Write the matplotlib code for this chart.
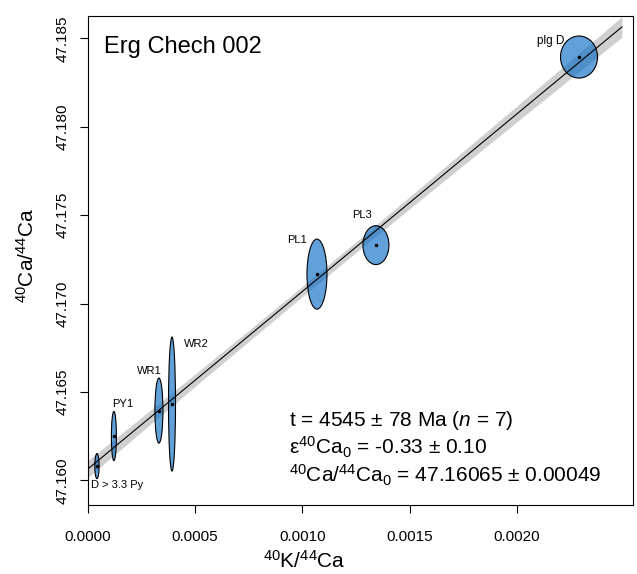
import numpy as np
import matplotlib
matplotlib.use('Agg')
import matplotlib.pyplot as plt
from matplotlib.patches import Ellipse

plt.rcParams['font.family'] = ['Liberation Sans', 'DejaVu Sans']
plt.rcParams['mathtext.fontset'] = 'custom'
plt.rcParams['mathtext.rm'] = 'Liberation Sans'
plt.rcParams['mathtext.it'] = 'Liberation Sans:italic'

# aliquots: 40K/44Ca, 40Ca/44Ca and ellipse half axes
names = ['D > 3.3 Py', 'PY1', 'WR1', 'WR2', 'PL1', 'PL3', 'plg D']
k_ca = [0.000042, 0.000121, 0.000331, 0.000392, 0.001068, 0.001343, 0.00229]
ca_ca = [47.16081, 47.16251, 47.16395, 47.16432, 47.17167, 47.17331, 47.18395]
sx = [0.0000100, 0.0000117, 0.0000187, 0.0000163, 0.0000466, 0.0000606, 0.0000863]
sy = [0.00071, 0.00139, 0.00184, 0.00379, 0.00198, 0.00110, 0.00119]
lab_x = [0.000135, 0.000163, 0.000284, 0.000504, 0.000975, 0.001278, 0.002160]
lab_y = [47.15974, 47.16432, 47.16618, 47.16771, 47.17360, 47.17501, 47.18486]
lab_size = [8, 8, 8, 8, 8, 8, 8.5]

# isochron fit
intercept = 47.16065
slope = 10.04
band_x = [0.0, 0.00025, 0.0005, 0.00075, 0.001, 0.00125, 0.0015, 0.00175, 0.002, 0.00225, 0.00249]
band_half = [0.00048, 0.00041, 0.00035, 0.00031, 0.00029, 0.00030, 0.00034, 0.00039, 0.00045, 0.00051, 0.00058]

fig = plt.figure(figsize=(6.37, 5.74), dpi=100)
ax = fig.add_axes([0.1374, 0.1202, 0.8564, 0.8519])

bx = np.array(band_x)
bh = np.array(band_half)
ax.fill_between(bx, intercept + slope * bx - bh, intercept + slope * bx + bh,
                color='#cfcfcf', lw=0, zorder=1)

for x, y, ex, ey in zip(k_ca, ca_ca, sx, sy):
    ax.add_patch(Ellipse((x, y), 2 * ex, 2 * ey, facecolor=(0.0, 0.4, 0.76, 0.62),
                         edgecolor='black', lw=0.8, zorder=2))

ax.plot(bx, intercept + slope * bx, color='black', lw=0.8, zorder=3)
ax.plot(k_ca, ca_ca, 'o', color='black', ms=1.5, zorder=4)

for n, x, y, fs in zip(names, lab_x, lab_y, lab_size):
    ax.text(x, y, n, fontsize=fs, ha='center', va='center', zorder=5)

ax.set_xlim(-0.000002, 0.002542)
ax.set_ylim(47.15861, 47.18627)
ax.set_xticks([0.0, 0.0005, 0.001, 0.0015, 0.002])
ax.set_xticklabels(['0.0000', '0.0005', '0.0010', '0.0015', '0.0020'])
ax.set_yticks([47.160, 47.165, 47.170, 47.175, 47.180, 47.185])
ax.set_yticklabels(['47.160', '47.165', '47.170', '47.175', '47.180', '47.185'],
                   rotation=90, va='center')
ax.tick_params(length=6, width=0.8, labelsize=11, direction='out')
ax.tick_params(axis='x', pad=12)
ax.tick_params(axis='y', pad=7)
for s in ax.spines.values():
    s.set_linewidth(0.8)

ax.text(0.03, 0.937, 'Erg Chech 002', transform=ax.transAxes, fontsize=17,
        ha='left', va='center')
ax.text(0.37, 0.172, r't = 4545 ± 78 Ma ($\it{n}$ = 7)', transform=ax.transAxes,
        fontsize=15, ha='left', va='center')
ax.text(0.37, 0.117, r'ε$\mathregular{^{40}Ca_0}$ = -0.33 ± 0.10', transform=ax.transAxes,
        fontsize=15, ha='left', va='center')
ax.text(0.37, 0.061, r'$\mathregular{^{40}Ca/^{44}Ca_0}$ = 47.16065 ± 0.00049',
        transform=ax.transAxes, fontsize=15, ha='left', va='center')

fig.text(304 / 637, 1 - 568 / 574, r'$\mathregular{^{40}K/^{44}Ca}$', fontsize=15,
         ha='center', va='baseline')
fig.text(27 / 637, 1 - 255 / 574, r'$\mathregular{^{40}Ca/^{44}Ca}$', fontsize=15,
         ha='center', va='center', rotation=90)

fig.savefig('out.png', dpi=100)
